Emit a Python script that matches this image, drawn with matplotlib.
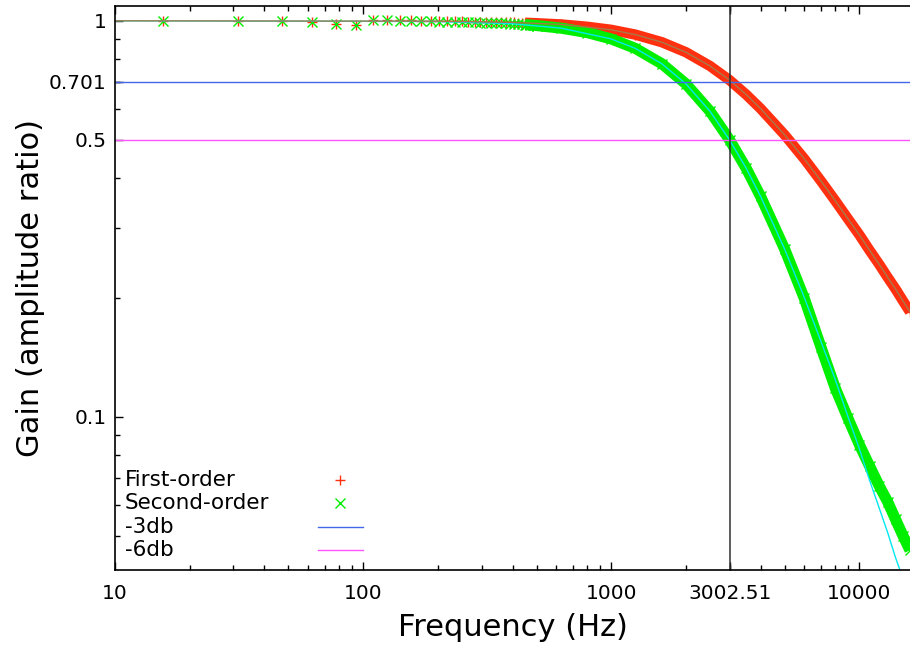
"""Gain of first- and second-order low-pass filters, gnuplot-style figure."""
import matplotlib
matplotlib.use("Agg")
import matplotlib.pyplot as plt
from matplotlib.ticker import FixedLocator, FixedFormatter, NullFormatter

CUTOFF_HZ = 3002.51
GAIN_3DB = 0.701
GAIN_6DB = 0.5

# measured points below ~500 Hz, where the markers are still separate
low_freq = [15.6, 31.3, 46.9, 62.5, 78.1, 93.8, 109.4, 125.0, 140.6, 156.3,
            171.9, 187.5, 203.1, 218.8, 234.4, 250.0, 265.6, 281.3, 296.9,
            312.5, 328.1, 343.8, 359.4, 375.0, 390.6, 406.3, 421.9, 437.5,
            453.1, 468.8, 484.4, 500.0]
low_first = [1.000, 1.000, 1.000, 0.996, 0.981, 0.976, 1.004, 1.003, 1.002,
             1.002, 1.001, 1.000, 1.000, 0.999, 0.998, 0.997, 0.996, 0.996,
             0.995, 0.994, 0.994, 0.993, 0.993, 0.992, 0.992, 0.991, 0.990,
             0.990, 0.989, 0.988, 0.987, 0.986]
low_second = [1.000, 1.000, 1.000, 0.996, 0.981, 0.976, 1.004, 1.002, 1.001,
              1.000, 0.999, 0.997, 0.996, 0.995, 0.994, 0.993, 0.992, 0.991,
              0.990, 0.989, 0.988, 0.987, 0.986, 0.985, 0.983, 0.982, 0.980,
              0.979, 0.977, 0.976, 0.974, 0.973]

# above ~450 Hz the markers merge into a solid band
band_freq = [450, 500, 630, 800, 1000, 1250, 1600, 2000, 2500, 3000, 3500,
             4000, 5000, 6000, 7000, 8000, 9000, 10000, 11000, 12000, 13000,
             14000, 15000, 16000]
band_first = [0.989, 0.986, 0.979, 0.966, 0.949, 0.923, 0.883, 0.833, 0.769,
              0.708, 0.651, 0.600, 0.515, 0.448, 0.394, 0.351, 0.316, 0.288,
              0.263, 0.243, 0.225, 0.210, 0.196, 0.184]
band_second = [0.978, 0.973, 0.958, 0.934, 0.900, 0.852, 0.779, 0.693, 0.591,
               0.500, 0.424, 0.360, 0.265, 0.199, 0.150, 0.118, 0.099, 0.085,
               0.075, 0.067, 0.061, 0.055, 0.050, 0.046]

# ideal responses (thin lines)
theory_freq = [10, 200, 400, 630, 1000, 1250, 1600, 2000, 2500, 3000, 3500,
               4000, 5000, 6000, 7000, 8000, 9000, 10000, 11000, 12000, 13000,
               14000, 15000, 16000]
theory_first = [1.000, 0.998, 0.991, 0.979, 0.949, 0.923, 0.883, 0.833, 0.769,
                0.708, 0.651, 0.600, 0.515, 0.448, 0.394, 0.351, 0.316, 0.288,
                0.263, 0.243, 0.225, 0.210, 0.196, 0.184]
theory_second = [1.000, 0.996, 0.983, 0.958, 0.900, 0.852, 0.779, 0.693,
                 0.591, 0.500, 0.424, 0.360, 0.265, 0.200, 0.155, 0.124, 0.100,
                 0.083, 0.069, 0.059, 0.051, 0.044, 0.039, 0.034]

xtick_vals = [10, 100, 1000, CUTOFF_HZ, 10000]
xtick_text = ["10", "100", "1000", "3002.51", "10000"]
ytick_vals = [0.1, GAIN_6DB, GAIN_3DB, 1.0]
ytick_text = ["0.1", "0.5", "0.701", "1"]

RED = "#ff3010"
GREEN = "#00ee00"
BLUE = "#4466e8"
MAGENTA = "#ff55ff"
CYAN = "#00e8f0"
BROWN = "#a87848"

plt.rcParams["font.family"] = "DejaVu Sans"

fig = plt.figure(figsize=(9.1, 6.45), dpi=100)
ax = fig.add_axes([115 / 910, 75 / 645, 795 / 910, 564 / 645])
ax.set_xscale("log")
ax.set_yscale("log")

# measured data: separate markers, then the merged band
ax.plot(low_freq, low_first, ls="none", marker="+", ms=7.5, mew=1.0, color=RED)
ax.plot(band_freq, band_first, "-", lw=7.5, color=RED, solid_capstyle="butt")
ax.plot(band_freq, band_first, ls="none", marker="+", ms=7.5, mew=1.0, color=RED)
ax.plot(low_freq, low_second, ls="none", marker="x", ms=6.5, mew=1.0, color=GREEN)
ax.plot(band_freq, band_second, "-", lw=8, color=GREEN, solid_capstyle="butt")
ax.plot(band_freq, band_second, ls="none", marker="x", ms=6.5, mew=1.0, color=GREEN)

# ideal curves
ax.plot(theory_freq, theory_second, "-", lw=1.0, color=CYAN)
ax.plot(theory_freq, theory_first, "-", lw=1.0, color=BROWN)

ax.axhline(GAIN_3DB, color=BLUE, lw=1.0)
ax.axhline(GAIN_6DB, color=MAGENTA, lw=1.0)
ax.axvline(CUTOFF_HZ, color="#303030", lw=1.1)

ax.set_xlim(10, 16000)
ax.set_ylim(0.041, 1.09)

ax.xaxis.set_major_locator(FixedLocator(xtick_vals))
ax.xaxis.set_major_formatter(FixedFormatter(xtick_text))
ax.xaxis.set_minor_locator(FixedLocator(
    [m * d for d in (10, 100, 1000, 10000) for m in range(2, 10)]))
ax.xaxis.set_minor_formatter(NullFormatter())
ax.yaxis.set_major_locator(FixedLocator(ytick_vals))
ax.yaxis.set_major_formatter(FixedFormatter(ytick_text))
ax.yaxis.set_minor_locator(FixedLocator(
    [m * 0.01 for m in range(4, 10)] + [m * 0.1 for m in (2, 3, 4, 6, 7, 8, 9)]))
ax.yaxis.set_minor_formatter(NullFormatter())

ax.tick_params(which="both", direction="in", top=True, right=False,
               labelsize=14.5, width=1.0, color="black")
ax.tick_params(which="major", length=6)
ax.tick_params(which="minor", length=3.5)
ax.tick_params(axis="x", pad=10)
ax.tick_params(axis="y", pad=6)
ax.spines["right"].set_visible(False)
for s in ("left", "bottom", "top"):
    ax.spines[s].set_linewidth(1.2)

ax.set_xlabel("Frequency (Hz)", fontsize=22, labelpad=7)
ax.set_ylabel("Gain (amplitude ratio)", fontsize=22, labelpad=3)

# gnuplot-like key: text on the left, sample on the right
key_rows = [("First-order", dict(marker="+", color=RED, ms=7.5, mew=1.0, ls="none")),
            ("Second-order", dict(marker="x", color=GREEN, ms=6.5, mew=1.0, ls="none")),
            ("-3db", dict(color=BLUE, lw=1.0)),
            ("-6db", dict(color=MAGENTA, lw=1.0))]
row_y = [0.1596, 0.1188, 0.0762, 0.0355]
for (label, style), yk in zip(key_rows, row_y):
    ax.text(0.0126, yk, label, fontsize=15.5, va="center", ha="left",
            transform=ax.transAxes)
    if style.get("ls") == "none":
        ax.plot([0.283], [yk], transform=ax.transAxes, **style)
    else:
        ax.plot([0.2553, 0.312], [yk, yk], transform=ax.transAxes, **style)

fig.savefig("out.png", dpi=100)
